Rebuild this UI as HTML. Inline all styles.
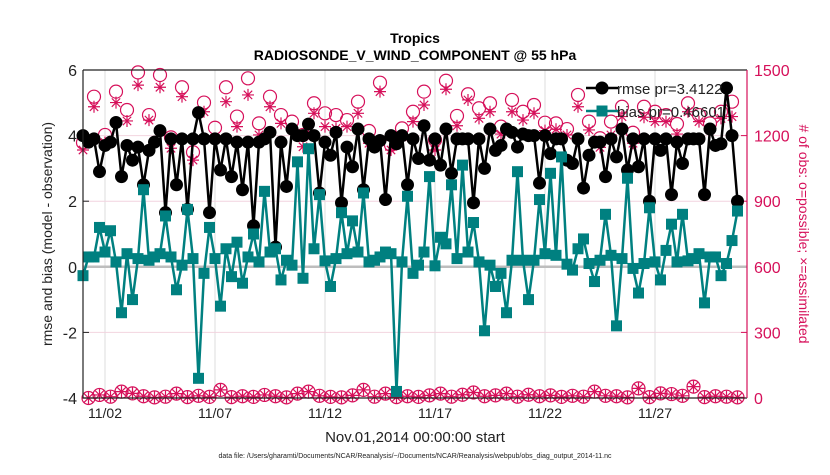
<!DOCTYPE html>
<html><head><meta charset="utf-8"><style>
body{margin:0;background:#fff;font-family:"Liberation Sans",Arial,sans-serif}
svg text{font-family:"Liberation Sans",Arial,sans-serif}
</style></head><body>
<svg id="chart" width="830" height="470" xmlns="http://www.w3.org/2000/svg">
<text x="415" y="43" text-anchor="middle" font-size="14" font-weight="bold">Tropics</text>
<text x="415" y="60" text-anchor="middle" font-size="14" font-weight="bold">RADIOSONDE_V_WIND_COMPONENT @ 55 hPa</text>
<text x="415" y="442" text-anchor="middle" font-size="15" fill="#222">Nov.01,2014 00:00:00 start</text>
<text x="415" y="458" text-anchor="middle" font-size="7" fill="#222">data file: /Users/gharamti/Documents/NCAR/Reanalysis/~/Documents/NCAR/Reanalysis/webpub/obs_diag_output_2014-11.nc</text>
<text transform="translate(52,234) rotate(-90)" text-anchor="middle" font-size="14" fill="#222">rmse and bias (model - observation)</text>
<text transform="translate(799,234) rotate(90)" text-anchor="middle" font-size="14" fill="#d6105a"># of obs: o=possible; ×=assimilated</text>
<g id="plot"></g>
</svg>
<script>
const rmse=[4.0,3.8,3.9,2.9,3.7,3.8,4.4,2.75,3.7,3.25,3.65,2.5,3.55,3.8,4.15,1.65,3.9,2.5,3.9,1.75,3.9,4.7,3.9,1.65,3.9,2.95,3.9,2.75,3.8,2.35,3.8,
1.25,3.8,3.9,4.1,0.6,3.8,2.45,4.2,4.0,4.0,4.35,4.0,2.25,3.8,3.4,4.1,1.95,3.65,3.05,4.2,2.35,3.9,3.65,3.85,2.05,4.0,3.75,4.0,2.5,3.9,
3.3,4.3,3.25,3.9,3.1,4.2,2.85,3.9,3.9,3.9,1.95,3.9,3.0,4.2,3.55,3.7,4.2,4.1,3.65,4.05,4.0,4.0,2.55,4.0,3.45,3.9,3.9,3.25,3.15,3.9,2.4,
3.4,3.8,3.8,2.75,3.9,3.35,4.2,2.95,3.9,3.05,3.9,2.0,3.9,3.55,3.9,2.2,3.8,3.15,3.9,3.9,3.9,2.2,4.2,3.7,3.75,5.45,4.0,2.0];
const bias=[-0.27,0.3,0.3,1.2,0.45,1.1,0.15,-1.4,0.4,-1.0,0.25,2.35,0.2,0.3,0.4,1.55,0.3,-0.7,0.05,1.75,0.25,-3.4,-0.2,1.2,0.25,-1.2,0.55,-0.3,0.75,-0.5,0.3,
1.0,0.15,2.3,0.45,0.55,-0.4,0.2,0.05,3.2,-0.35,3.6,0.55,2.2,0.18,-0.6,0.25,1.65,0.4,1.4,0.45,2.25,0.15,0.2,0.3,0.45,0.4,-3.8,0.15,2.15,-0.2,
0.05,0.45,2.75,0.03,0.9,0.7,2.5,0.25,3.1,0.45,1.35,0.15,-1.95,0.05,-0.6,-0.2,-1.4,0.2,2.9,0.2,-1.0,0.2,2.05,0.4,2.85,0.35,3.35,0.08,-0.1,0.55,0.85,
0.1,-0.45,0.2,1.6,0.35,-1.8,0.25,2.7,-0.05,-0.8,0.1,1.8,0.15,-0.4,0.5,1.3,0.15,1.6,0.18,0.25,0.4,-1.1,0.3,0.3,-0.27,0.1,0.8,1.7];
const possibleEven=[1168,1378,1203,1401,1317,1489,1294,1477,1192,1421,1124,1351,1236,1421,1287,1462,1256,1378,1294,1264,1203,1348,1302,1294,1271,1355,1221,1442,1157,1233,1309,1401,1180,1451,1290,1389,1325,1348,1241,1363,1309,1340,1259,1256,1230,1386,1264,1188,1264,1332,1213,1332,1309,1294,1253,1348,1294,1256,1309,1355];
const assimEven=[1134,1332,1168,1351,1267,1431,1271,1421,1142,1378,1088,1309,1184,1355,1241,1386,1203,1332,1256,1226,1149,1302,1241,1233,1241,1302,1165,1401,1134,1195,1264,1340,1134,1412,1245,1363,1279,1309,1207,1309,1271,1302,1223,1229,1203,1332,1226,1146,1203,1287,1165,1284,1264,1264,1207,1309,1264,1226,1279,1287];
const possibleOdd=[0,14,6,29,21,8,3,6,20,4,10,5,37,4,8,5,14,8,3,20,29,10,5,3,12,37,6,20,4,8,5,12,20,6,15,25,8,12,20,6,15,8,12,5,10,6,29,10,8,3,44,4,21,18,10,52,4,8,6,3];
const assimOdd=possibleOdd.slice();
const xTickDays=[1,6,11,16,21,26];
const xTickLabels=["11/02","11/07","11/12","11/17","11/22","11/27"];
const yTicks=[-4,-2,0,2,4,6];
const rTicks=[0,300,600,900,1200,1500];

const NS="http://www.w3.org/2000/svg";
const L=83,R=747,T=70,B=398;
const X=d=>L+(d/30.0)*(R-L-4);
const Y=v=>B-(v+4)/10*(B-T);
const YR=c=>B-c/1500*(B-T);
const g=document.getElementById('plot');
function mk(tag,attrs,parent){const e=document.createElementNS(NS,tag);for(const k in attrs)e.setAttribute(k,attrs[k]);(parent||g).appendChild(e);return e;}

// grids
xTickDays.forEach((d,i)=>{
  const gl=mk('line',{x1:X(d),x2:X(d),y1:T,y2:B,stroke:'#dcdcdc','stroke-width':1});
  
  
  const tk=mk('line',{x1:X(d),x2:X(d),y1:B,y2:B-6,stroke:'#222'});
  
  
  const t=mk('text',{x:X(d),y:B+20,'text-anchor':'middle','font-size':14,fill:'#222'});
  t.textContent=xTickLabels[i];
  
  
});
rTicks.forEach(c=>{
  const gl=mk('line',{x1:L,x2:R,y1:YR(c),y2:YR(c),stroke:'#f2d4df','stroke-width':1});
  
  
  const tk=mk('line',{x1:R,x2:R-6,y1:YR(c),y2:YR(c),stroke:'#d6105a'});
  
  
  const t=mk('text',{x:R+7,y:YR(c)+6,'font-size':16,fill:'#d6105a'});
  t.textContent=c;
  
  
});
yTicks.forEach(v=>{
  const tk=mk('line',{x1:L,x2:L+6,y1:Y(v),y2:Y(v),stroke:'#222'});
  
  
  const t=mk('text',{x:L-6,y:Y(v)+6,'text-anchor':'end','font-size':16,fill:'#222'});
  t.textContent=v;
  
  
});
const zl=mk('line',{x1:L,x2:R,y1:Y(0),y2:Y(0),stroke:'#bdbdbd','stroke-width':2.5});



function star(cx,cy,r,parent,name){
  const p=mk('path',{d:`M${cx-r},${cy}H${cx+r}M${cx},${cy-r}V${cy+r}M${cx-r*0.7},${cy-r*0.7}L${cx+r*0.7},${cy+r*0.7}M${cx-r*0.7},${cy+r*0.7}L${cx+r*0.7},${cy-r*0.7}`,stroke:'#d6105a','stroke-width':1.2,fill:'none'},parent);
  
  
}
// counts
const cg=mk('g',{});


possibleEven.forEach((c,k)=>{
  const x=X(2*k/4);
  const ci=mk('circle',{cx:x,cy:YR(c),r:6.5,fill:'none',stroke:'#d6105a','stroke-width':1.2},cg);
  
  
  star(x,YR(assimEven[k]),6,cg,'assimilated-point');
});
possibleOdd.forEach((c,k)=>{
  const x=X((2*k+1)/4);
  const ci=mk('circle',{cx:x,cy:YR(c),r:6.5,fill:'none',stroke:'#d6105a','stroke-width':1.2},cg);
  
  
  star(x,YR(assimOdd[k]),6,cg,'assimilated-point');
});
// rmse
const rl=mk('polyline',{points:rmse.map((v,i)=>X(i/4)+','+Y(v)).join(' '),fill:'none',stroke:'#000','stroke-width':2.5});


rmse.forEach((v,i)=>{
  const c=mk('circle',{cx:X(i/4),cy:Y(v),r:6.5,fill:'#000'});
  
  
});
// bias
const bl=mk('polyline',{points:bias.map((v,i)=>X(i/4)+','+Y(v)).join(' '),fill:'none',stroke:'#008080','stroke-width':2.5});


bias.forEach((v,i)=>{
  const s=mk('rect',{x:X(i/4)-5.5,y:Y(v)-5.5,width:11,height:11,fill:'#008080'});
  
  
});
// axes box
const ax=mk('path',{d:`M${L},${T}H${R}M${L},${T}V${B}H${R}`,stroke:'#222','stroke-width':1.2,fill:'none'});


const ra=mk('line',{x1:R,x2:R,y1:T,y2:B,stroke:'#d6105a','stroke-width':1.2});


// legend
const lg=mk('g',{});


const l1=mk('line',{x1:586,x2:618,y1:88,y2:88,stroke:'#000','stroke-width':2.5},lg);


const m1=mk('circle',{cx:602,cy:88,r:6.5,fill:'#000'},lg);


const t1=mk('text',{x:617,y:94,'font-size':15,fill:'#222'},lg);
t1.textContent='rmse pr=3.4122';


const l2=mk('line',{x1:586,x2:618,y1:111,y2:111,stroke:'#008080','stroke-width':2.5},lg);


const m2=mk('rect',{x:596.5,y:105.5,width:11,height:11,fill:'#008080'},lg);


const t2=mk('text',{x:617,y:117,'font-size':15,fill:'#222'},lg);
t2.textContent='bias pr=0.46601';


</script>
</body></html>
